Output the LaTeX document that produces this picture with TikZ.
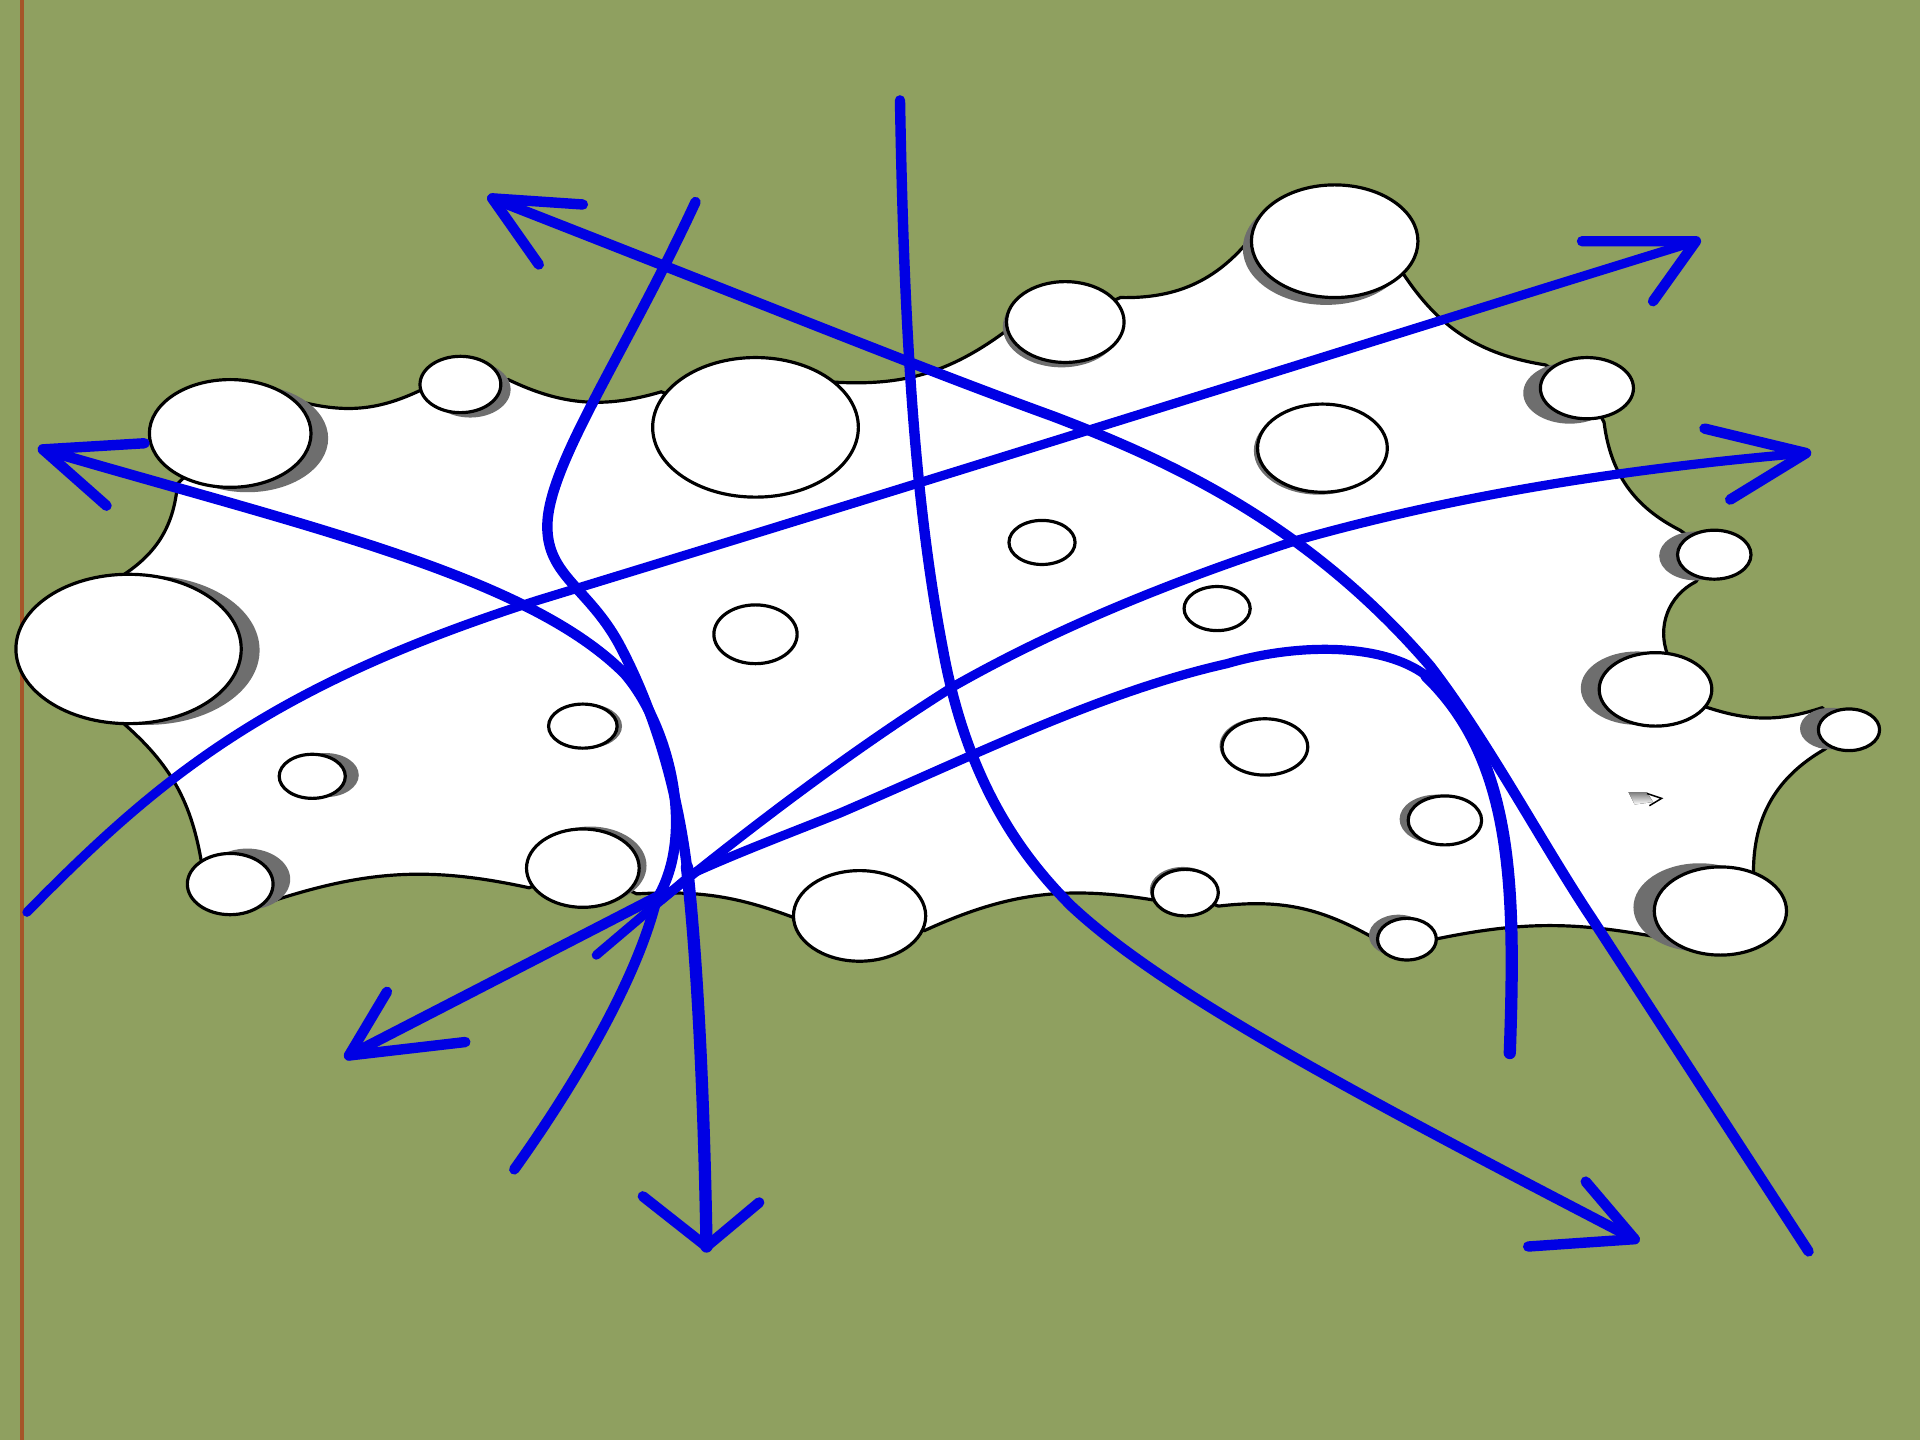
\documentclass[tikz,border=0pt]{standalone}
\definecolor{olive}{RGB}{143,160,96}
\definecolor{rule}{RGB}{165,85,40}
\definecolor{shade}{RGB}{110,110,110}
\definecolor{trace}{RGB}{0,0,228}
\tikzset{
  outline/.style={draw=black,line width=0.026cm,fill=white},
  shadowdisc/.style={fill=shade,draw=none},
  path/.style={draw=trace,line width=0.085cm,line cap=round,line join=round},
  thin path/.style={path,line width=0.075cm},
  thick path/.style={path,line width=0.1cm},
}
\newcommand{\crater}[6]{%
  \fill[shadowdisc] (#1+#5,#2+#6) ellipse [x radius=#3,y radius=#4];
}
\newcommand{\rim}[4]{%
  \filldraw[outline] (#1,#2) ellipse [x radius=#3,y radius=#4];
}
\begin{document}
\begin{tikzpicture}[x=0.01cm,y=-0.01cm]
\useasboundingbox (0,0) rectangle (1568,1176);
\fill[olive] (0,0) rectangle (1568,1176);
\draw[rule,line width=0.03cm] (18,0) -- (18,1176);
% plate
\filldraw[outline] (188,354) -- (245,328) to[bend right=20] (345,318) -- (376,314)
 -- (415,310) to[bend right=21] (540,320) -- (617,349) -- (680,312)
 to[bend right=20] (822,270) -- (870,263) -- (915,243) to[bend right=27] (1025,190)
 -- (1090,197) -- (1145,222) to[bend right=24] (1262,298) -- (1296,317)
 -- (1310,345) to[bend right=28] (1372,433) -- (1400,453) -- (1385,475)
 to[bend right=42] (1362,535) -- (1352,563) -- (1395,578)
 to[bend right=18] (1488,578) -- (1510,596) -- (1490,612)
 to[bend right=30] (1432,712) -- (1405,744) -- (1352,765)
 to[bend right=11] (1172,767) -- (1149,767) -- (1120,765)
 to[bend right=18] (995,740) -- (968,729) -- (942,735)
 to[bend right=17] (755,760) -- (702,748) -- (650,750)
 to[bend right=12] (520,730) -- (476,709) -- (432,725)
 to[bend right=15] (225,735) -- (188,722) -- (165,707)
 to[bend right=20] (100,590) -- (105,530) -- (100,470)
 to[bend right=26] (145,395) -- cycle;
% shadows
\crater{188}{354}{66}{44}{14}{4}
\crater{376}{314}{33}{23}{8}{4}
\crater{105}{530}{92}{61}{15}{1}
\crater{188}{722}{35}{25}{14}{-4}
\crater{476}{709}{46}{32}{6}{-2}
\crater{255}{634}{27}{18}{11}{-1}
\crater{476}{593}{28}{18}{4}{0}
\crater{870}{263}{48}{33}{-3}{4}
\crater{1090}{197}{68}{46}{-7}{6}
\crater{1080}{366}{53}{36}{-3}{2}
\crater{1033}{610}{35}{23}{-2}{-1}
\crater{1180}{670}{30}{20}{-7}{-1}
\crater{968}{729}{27}{19}{-2}{-2}
\crater{1149}{767}{24}{17}{-7}{-3}
\crater{1405}{744}{54}{36}{-17}{-3}
\crater{1510}{596}{25}{17}{-15}{-1}
\crater{1352}{563}{46}{30}{-15}{-1}
\crater{1400}{453}{30}{20}{-15}{1}
\crater{1296}{317}{38}{25}{-14}{4}
% discs
\rim{188}{354}{66}{44}
\rim{376}{314}{33}{23}
\rim{105}{530}{92}{61}
\rim{188}{722}{35}{25}
\rim{476}{709}{46}{32}
\rim{255}{634}{27}{18}
\rim{476}{593}{28}{18}
\rim{617}{518}{34}{24}
\rim{617}{349}{84}{57}
\rim{870}{263}{48}{33}
\rim{1090}{197}{68}{46}
\rim{1080}{366}{53}{36}
\rim{851}{443}{27}{18}
\rim{994}{497}{27}{18}
\rim{1033}{610}{35}{23}
\rim{1180}{670}{30}{20}
\rim{968}{729}{27}{19}
\rim{702}{748}{54}{37}
\rim{1149}{767}{24}{17}
\rim{1405}{744}{54}{36}
\rim{1510}{596}{25}{17}
\rim{1352}{563}{46}{30}
\rim{1400}{453}{30}{20}
\rim{1296}{317}{38}{25}
\fill[shade] (1330,647) -- (1345,647) -- (1350,655) -- (1335,657) -- cycle;
\draw[black,line width=0.012cm] (1345,648) -- (1357,652) -- (1347,658);
% traces
\draw[path] (35,367) .. controls (250,430) and (430,470) .. (510,550) .. controls (545,590) and (570,680) .. (536,735) .. controls (520,800) and (470,885) .. (420,955);
\draw[path] (118,362) -- (35,367) -- (87,413);
\draw[thin path] (22,745) .. controls (130,635) and (220,560) .. (440,490) .. controls (800,380) and (1100,285) .. (1385,197);
\draw[path] (1292,197) -- (1385,197) -- (1350,246);
\draw[path] (568,165) .. controls (510,290) and (447,380) .. (447,430) .. controls (447,470) and (480,480) .. (505,525) .. controls (540,590) and (555,660) .. (561,708);
\draw[thick path] (561,708) .. controls (570,790) and (575,900) .. (577,1018);
\draw[path] (525,977) -- (577,1018) -- (620,982);
\draw[path] (735,82) .. controls (738,250) and (745,400) .. (770,530) .. controls (790,640) and (835,700) .. (875,740) .. controls (950,810) and (1100,890) .. (1335,1012);
\draw[path] (1295,965) -- (1335,1012) -- (1248,1018);
\draw[path] (402,162) .. controls (640,255) and (750,300) .. (860,340) .. controls (960,378) and (1070,430) .. (1168,544) .. controls (1215,605) and (1260,690) .. (1300,750) -- (1477,1022);
\draw[path] (476,167) -- (402,162) -- (440,216);
\draw[thin path] (1475,370) .. controls (1300,385) and (1170,410) .. (1060,441) .. controls (940,480) and (850,520) .. (778,561) .. controls (700,610) and (620,670) .. (540,735);
\draw[path] (1392,350) -- (1475,370) -- (1413,408);
\draw[path] (285,862) -- (545,728);
\draw[path] (380,851) -- (285,862) -- (316,810);
\draw[thin path] (1165,552) .. controls (1130,525) and (1060,525) .. (1002,542) .. controls (900,565) and (800,615) .. (686,664) .. controls (646,680) and (606,695) .. (566,713) -- (487,780);
\draw[thick path] (1233,860) .. controls (1238,720) and (1235,620) .. (1165,552);
\end{tikzpicture}
\end{document}
